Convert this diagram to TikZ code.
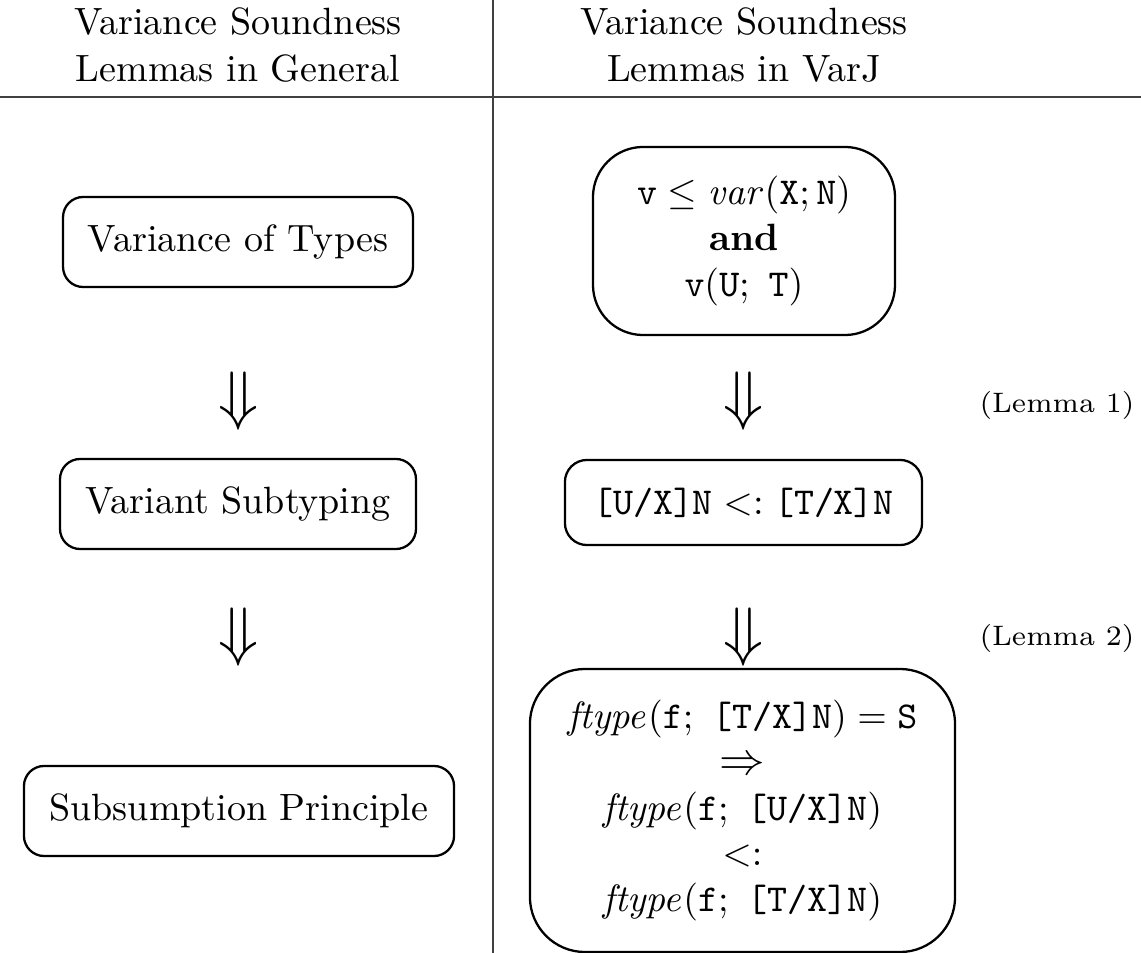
\documentclass[tikz,border=0pt]{standalone}
\usepackage{amsmath,amssymb}
\begin{document}
\begin{tikzpicture}[x=0.2632pt,y=-0.2632pt,
  box/.style={draw, line width=0.6pt, align=center, inner sep=0pt},
  rule/.style={line width=0.4pt, black!75},
  head/.style={anchor=base, inner sep=0pt},
  darrow/.style={inner sep=0pt, font=\fontsize{17.5}{20}\selectfont},
  lemma/.style={inner sep=0pt, font=\fontsize{7.4}{9}\selectfont}]
\useasboundingbox (0,0) rectangle (1141,953);
% table rules
\coordinate (vt) at (493,0);
\coordinate (vb) at (493,953);
\coordinate (hl) at (0,97);
\coordinate (hr) at (1141,97);
\draw[rule] (vt) -- (vb);
\draw[rule] (hl) -- (hr);
% headings
\node[head] (h1a) at (238,35) {Variance Soundness};
\node[head] (h1b) at (238,82) {Lemmas in General};
\node[head] (h2a) at (744,35) {Variance Soundness};
\node[head] (h2b) at (744,82) {Lemmas in VarJ};
% left column
\node[box, minimum width=92.1pt, minimum height=23.7pt, rounded corners=5.3pt] (l1) at (238,242) {Variance of Types};
\node[darrow] (la1) at (239,401) {$\Downarrow$};
\node[box, minimum width=93.7pt, minimum height=23.7pt, rounded corners=5.3pt] (l2) at (238,504) {Variant Subtyping};
\node[darrow] (la2) at (239,637) {$\Downarrow$};
\node[box, minimum width=113.2pt, minimum height=23.7pt, rounded corners=5.3pt] (l3) at (239,811) {Subsumption Principle};
% right column
\node[box, minimum width=79.5pt, minimum height=49.5pt, rounded corners=13.2pt] (r1) at (744,241)
  {$\mathtt{v} \leq \mathit{var}(\mathtt{X};\mathtt{N})$\\ \textbf{and}\\ $\mathtt{v}(\mathtt{U};\ \mathtt{T})$};
\node[darrow] (ra1) at (744,401) {$\Downarrow$};
\node[lemma] (lem1) at (1057,405) {(Lemma 1)};
\node[box, minimum width=94pt, minimum height=22.4pt, rounded corners=5.8pt] (r2) at (743.5,502.5)
  {$\text{\texttt{[U/X]N}} <: \text{\texttt{[T/X]N}}$};
\node[darrow] (ra2) at (744,637) {$\Downarrow$};
\node[lemma] (lem2) at (1057,638) {(Lemma 2)};
\node[box, minimum width=111.9pt, minimum height=74.5pt, rounded corners=14.5pt] (r3) at (742.5,810.5)
  {$\mathit{ftype}(\mathtt{f};\ \text{\texttt{[T/X]N}}) = \mathtt{S}$\\
   {\fontsize{12.6}{12}\selectfont$\Rightarrow$}\\
   $\mathit{ftype}(\mathtt{f};\ \text{\texttt{[U/X]N}})$\\
   $<:$\\
   $\mathit{ftype}(\mathtt{f};\ \text{\texttt{[T/X]N}})$};
\end{tikzpicture}
\end{document}
